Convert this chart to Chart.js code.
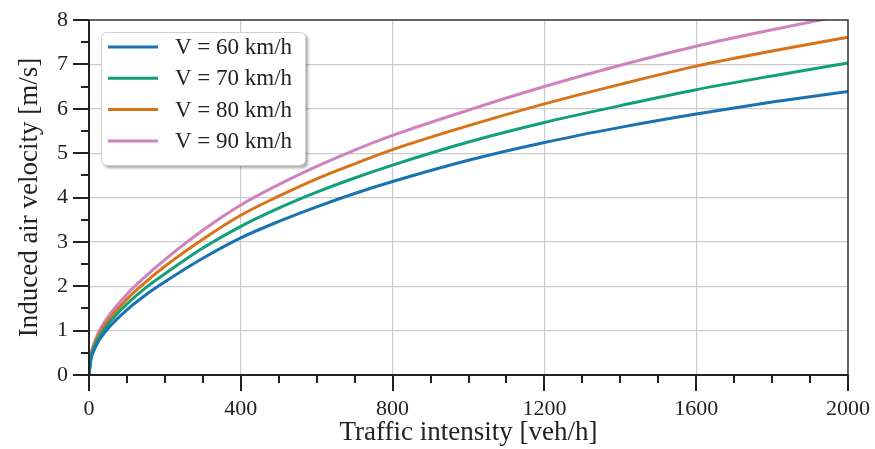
<!DOCTYPE html>
<html>
<head>
<meta charset="utf-8">
<script src="https://cdn.jsdelivr.net/npm/chart.js@4/dist/chart.umd.min.js"></script>
<style>
  html, body { margin: 0; padding: 0; background: #fff; }
  #wrap { width: 875px; height: 449px; position: relative; }
</style>
</head>
<body>
<div id="wrap"><canvas id="c" width="875" height="449"></canvas></div>
<script>
// Traffic intensity [veh/h] sample positions
const trafficIntensity = [0, 5, 10, 25, 50, 100, 150, 200, 300, 400, 500, 600, 700, 800, 1000, 1200, 1400, 1600, 1800, 2000];
// Induced air velocity [m/s]
const v60 = [0, 0.35, 0.49, 0.76, 1.05, 1.47, 1.81, 2.10, 2.63, 3.09, 3.46, 3.79, 4.09, 4.36, 4.84, 5.24, 5.58, 5.88, 6.15, 6.39];
const v70 = [0, 0.39, 0.55, 0.83, 1.14, 1.60, 1.97, 2.28, 2.86, 3.35, 3.76, 4.12, 4.44, 4.73, 5.25, 5.69, 6.07, 6.43, 6.74, 7.03];
const v80 = [0, 0.42, 0.59, 0.89, 1.22, 1.71, 2.10, 2.45, 3.06, 3.60, 4.03, 4.42, 4.76, 5.08, 5.62, 6.11, 6.55, 6.96, 7.30, 7.61];
const v90 = [0, 0.45, 0.63, 0.96, 1.31, 1.82, 2.23, 2.60, 3.26, 3.83, 4.29, 4.70, 5.07, 5.40, 5.97, 6.50, 6.98, 7.41, 7.78, 8.12];
const seriesLabels = ['V = 60 km/h', 'V = 70 km/h', 'V = 80 km/h', 'V = 90 km/h'];
const seriesColors = ['#1a72b0', '#12a07a', '#d9731a', '#cf82bf'];
const xMajorTicks = [0, 400, 800, 1200, 1600, 2000];
const yMajorTicks = [0, 1, 2, 3, 4, 5, 6, 7, 8];

const SERIF = "'Liberation Serif', 'DejaVu Serif', serif";
const allSeries = [v60, v70, v80, v90];

const datasets = allSeries.map((vals, i) => ({
  label: seriesLabels[i],
  data: trafficIntensity.map((x, j) => ({ x: x, y: vals[j] })),
  borderColor: seriesColors[i],
  backgroundColor: seriesColors[i],
  borderWidth: 3,
  pointRadius: 0,
  fill: false,
  cubicInterpolationMode: 'monotone'
}));

const frameAndTicks = {
  id: 'frameAndTicks',
  afterDraw(chart) {
    const ctx = chart.ctx;
    const a = chart.chartArea;
    const xs = chart.scales.x, ys = chart.scales.y;
    ctx.save();
    // frame
    ctx.strokeStyle = '#333';
    ctx.lineWidth = 1.5;
    ctx.strokeRect(a.left, a.top, a.right - a.left, a.bottom - a.top);
    // axis lines
    ctx.strokeStyle = '#222';
    ctx.lineWidth = 2;
    ctx.beginPath();
    ctx.moveTo(a.left, a.top); ctx.lineTo(a.left, a.bottom); ctx.lineTo(a.right, a.bottom);
    ctx.stroke();
    // ticks
    ctx.lineWidth = 2;
    ctx.beginPath();
    xs.ticks.forEach(t => {
      const px = Math.round(xs.getPixelForValue(t.value));
      const len = xMajorTicks.includes(t.value) ? 16 : 8;
      ctx.moveTo(px, a.bottom); ctx.lineTo(px, a.bottom + len);
    });
    ys.ticks.forEach(t => {
      const py = Math.round(ys.getPixelForValue(t.value));
      const len = yMajorTicks.includes(t.value) ? 16 : 8;
      ctx.moveTo(a.left, py); ctx.lineTo(a.left - len, py);
    });
    ctx.stroke();

    // legend
    const bx = 101, by = 32, bw = 204, bh = 133, r = 5;
    ctx.save();
    ctx.shadowColor = 'rgba(0,0,0,0.35)';
    ctx.shadowOffsetX = 3; ctx.shadowOffsetY = 3; ctx.shadowBlur = 3;
    ctx.fillStyle = '#fff';
    ctx.beginPath();
    ctx.roundRect(bx, by, bw, bh, r);
    ctx.fill();
    ctx.restore();
    ctx.strokeStyle = '#cfcfcf';
    ctx.lineWidth = 1;
    ctx.beginPath();
    ctx.roundRect(bx + 0.5, by + 0.5, bw, bh, r);
    ctx.stroke();
    ctx.font = "23px " + SERIF;
    ctx.textBaseline = 'middle';
    ctx.textAlign = 'left';
    chart.data.datasets.forEach((ds, i) => {
      const y = 47 + i * 31.3;
      ctx.strokeStyle = ds.borderColor;
      ctx.lineWidth = 3;
      ctx.beginPath();
      ctx.moveTo(108, y); ctx.lineTo(158, y);
      ctx.stroke();
      ctx.fillStyle = '#222';
      ctx.fillText(ds.label, 175, y + 1);
    });
    ctx.restore();
  }
};

function zeroPad(s) { s.paddingLeft = 0; s.paddingRight = 0; s.paddingTop = 0; s.paddingBottom = 0; }

new Chart(document.getElementById('c'), {
  type: 'line',
  data: { datasets: datasets },
  plugins: [frameAndTicks],
  options: {
    responsive: false,
    animation: false,
    layout: { padding: { top: 20, right: 27, left: 0, bottom: 0 } },
    plugins: { legend: { display: false }, tooltip: { enabled: false } },
    scales: {
      x: {
        type: 'linear',
        min: 0, max: 2000,
        afterFit(s) { s.height = 74; zeroPad(s); },
        afterBuildTicks(s) {
          const t = [];
          for (let v = 0; v <= 2000; v += 100) t.push({ value: v });
          s.ticks = t;
        },
        ticks: {
          autoSkip: false, maxRotation: 0, padding: 21,
          color: '#222',
          font: { family: SERIF, size: 22 },
          callback: (v) => xMajorTicks.includes(v) ? String(v) : ''
        },
        grid: {
          drawTicks: false,
          color: (c) => (c.tick && xMajorTicks.includes(c.tick.value) && c.tick.value !== 0 && c.tick.value !== 2000) ? '#cccccc' : 'rgba(0,0,0,0)',
          lineWidth: 1.2
        },
        border: { display: false },
        title: {
          display: true, text: 'Traffic intensity [veh/h]', color: '#222',
          font: { family: SERIF, size: 27, lineHeight: 1.2 },
          padding: { top: 0, bottom: 0 }
        }
      },
      y: {
        type: 'linear',
        min: 0, max: 8,
        afterFit(s) { s.width = 89; zeroPad(s); },
        afterBuildTicks(s) {
          const t = [];
          for (let v = 0; v <= 16; v += 1) t.push({ value: v / 2 });
          s.ticks = t;
        },
        ticks: {
          autoSkip: false, padding: 21,
          color: '#222',
          font: { family: SERIF, size: 22 },
          callback: (v) => yMajorTicks.includes(v) ? String(v) : ''
        },
        grid: {
          drawTicks: false,
          color: (c) => (c.tick && yMajorTicks.includes(c.tick.value) && c.tick.value !== 0 && c.tick.value !== 8) ? '#cccccc' : 'rgba(0,0,0,0)',
          lineWidth: 1.2
        },
        border: { display: false },
        title: {
          display: true, text: 'Induced air velocity [m/s]', color: '#222',
          font: { family: SERIF, size: 27, lineHeight: 1.2 },
          padding: { top: 14, bottom: 0 }
        }
      }
    }
  }
});
</script>
</body>
</html>
